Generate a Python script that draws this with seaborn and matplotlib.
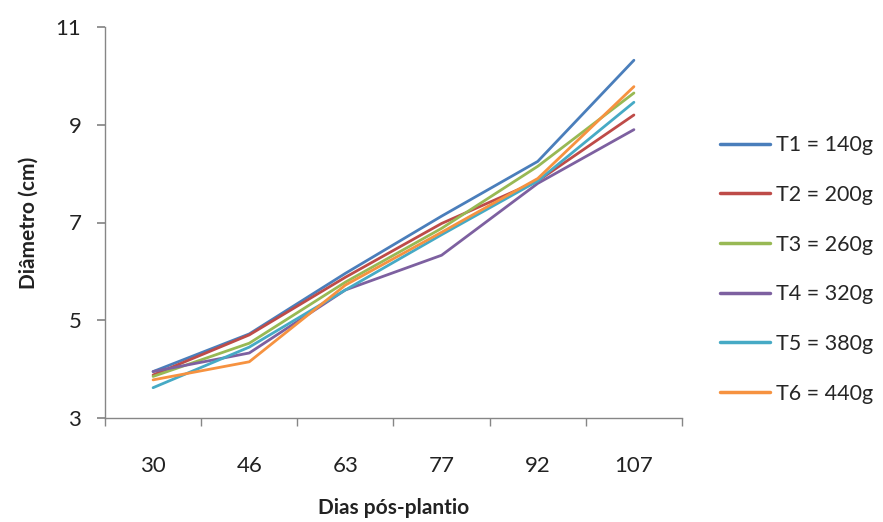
import matplotlib
matplotlib.use("Agg")
import matplotlib.pyplot as plt
import seaborn as sns
import pandas as pd
import numpy as np
from matplotlib.ticker import FixedLocator

days = ["30", "46", "63", "77", "92", "107"]
series_names = ["T1 = 140g", "T2 = 200g", "T3 = 260g", "T4 = 320g", "T5 = 380g", "T6 = 440g"]
t1 = [3.95, 4.72, 5.96, 7.13, 8.25, 10.32]
t2 = [3.88, 4.70, 5.88, 6.98, 7.85, 9.20]
t3 = [3.85, 4.53, 5.78, 6.88, 8.15, 9.65]
t4 = [3.95, 4.33, 5.62, 6.33, 7.80, 8.90]
t5 = [3.62, 4.45, 5.62, 6.75, 7.85, 9.46]
t6 = [3.78, 4.15, 5.72, 6.80, 7.90, 9.78]
yticks = [3, 5, 7, 9, 11]
colors = ["#4A7EBB", "#BE4B48", "#98B954", "#7D60A0", "#46AAC5", "#F69240"]

values = [t1, t2, t3, t4, t5, t6]
rows = []
for name, vals in zip(series_names, values):
    for d, v in zip(days, vals):
        rows.append({"Dias": d, "Diametro": v, "Serie": name})
df = pd.DataFrame(rows)

sns.set_theme(style="white")
plt.rcParams['font.family'] = ['Lato', 'DejaVu Sans']

fig = plt.figure(figsize=(8.83, 5.22), dpi=100)
ax = fig.add_axes([105/883, 1-418/522, (682-105)/883, (418-27)/522])

sns.lineplot(data=df, x="Dias", y="Diametro", hue="Serie", hue_order=series_names,
             palette=colors, linewidth=2.0, sort=False, ax=ax)

ax.set_xlim(-0.5, len(days)-0.5)
ax.set_ylim(3, 11)
ax.set_yticks(yticks)
ax.set_yticklabels([str(t) for t in yticks])
ax.set_xticks(range(len(days)))
ax.set_xticklabels(days)
ax.xaxis.set_minor_locator(FixedLocator(np.arange(-0.5, len(days), 1.0)))

gray = "#868686"
for s in ["top", "right"]:
    ax.spines[s].set_visible(False)
for s in ["left", "bottom"]:
    ax.spines[s].set_color(gray)
    ax.spines[s].set_linewidth(1.0)

ax.tick_params(axis="x", which="major", length=0, pad=27, labelsize=16, labelcolor="#222222")
ax.tick_params(axis="x", which="minor", length=6, color=gray, direction="out", bottom=True)
ax.tick_params(axis="y", which="major", length=6, color=gray, direction="out", left=True,
               pad=11, labelsize=16, labelcolor="#222222")

ax.set_xlabel("Dias pós-plantio", fontsize=15, fontweight="bold", labelpad=16, color="#222222")
ax.set_ylabel("Diâmetro (cm)", fontsize=15, fontweight="bold", labelpad=12, color="#222222")

leg = ax.legend(loc="center left", bbox_to_anchor=((720-105)/577, 0.38), frameon=False,
                borderaxespad=0, borderpad=0,
                fontsize=15.5, handlelength=2.3, handletextpad=0.3, labelspacing=1.38)
for line in leg.get_lines():
    line.set_linewidth(2.5)

fig.savefig("out.png", dpi=100)
